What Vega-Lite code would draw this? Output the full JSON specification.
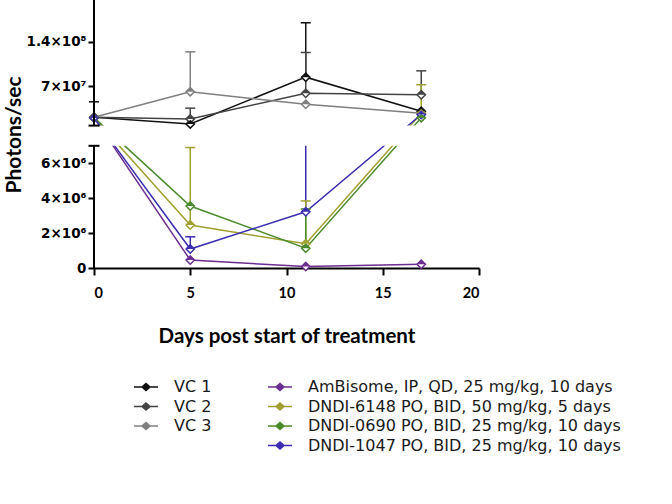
{
  "$schema": "https://vega.github.io/schema/vega-lite/v6.json",
  "width": 385,
  "height": 268,
  "autosize": {"type": "none"},
  "padding": {"left": 94, "top": 0, "right": 193, "bottom": 236},
  "config": {"view": {"stroke": null}, "font": "Lato"},
  "datasets": {
    "series": [
      {"group": "VC 1", "day": 0, "value": 20500000},
      {"group": "VC 1", "day": 5, "value": 10000000},
      {"group": "VC 1", "day": 11, "value": 84000000},
      {"group": "VC 1", "day": 17, "value": 30000000},
      {"group": "VC 2", "day": 0, "value": 20500000},
      {"group": "VC 2", "day": 5, "value": 18000000},
      {"group": "VC 2", "day": 11, "value": 58500000},
      {"group": "VC 2", "day": 17, "value": 56000000},
      {"group": "VC 3", "day": 0, "value": 20500000},
      {"group": "VC 3", "day": 5, "value": 61000000},
      {"group": "VC 3", "day": 11, "value": 41000000},
      {"group": "VC 3", "day": 17, "value": 27000000},
      {"group": "AmBisome, IP, QD, 25 mg/kg, 10 days", "day": 0, "value": 20000000},
      {"group": "AmBisome, IP, QD, 25 mg/kg, 10 days", "day": 5, "value": 470000},
      {"group": "AmBisome, IP, QD, 25 mg/kg, 10 days", "day": 11, "value": 100000},
      {"group": "AmBisome, IP, QD, 25 mg/kg, 10 days", "day": 17, "value": 230000},
      {"group": "DNDI-6148 PO, BID, 50 mg/kg, 5 days", "day": 0, "value": 20000000},
      {"group": "DNDI-6148 PO, BID, 50 mg/kg, 5 days", "day": 5, "value": 2470000},
      {"group": "DNDI-6148 PO, BID, 50 mg/kg, 5 days", "day": 11, "value": 1400000},
      {"group": "DNDI-6148 PO, BID, 50 mg/kg, 5 days", "day": 17, "value": 27000000},
      {"group": "DNDI-0690 PO, BID, 25 mg/kg, 10 days", "day": 0, "value": 20000000},
      {"group": "DNDI-0690 PO, BID, 25 mg/kg, 10 days", "day": 5, "value": 3560000},
      {"group": "DNDI-0690 PO, BID, 25 mg/kg, 10 days", "day": 11, "value": 1150000},
      {"group": "DNDI-0690 PO, BID, 25 mg/kg, 10 days", "day": 17, "value": 20000000},
      {"group": "DNDI-1047 PO, BID, 25 mg/kg, 10 days", "day": 0, "value": 20000000},
      {"group": "DNDI-1047 PO, BID, 25 mg/kg, 10 days", "day": 5, "value": 1100000},
      {"group": "DNDI-1047 PO, BID, 25 mg/kg, 10 days", "day": 11, "value": 3230000},
      {"group": "DNDI-1047 PO, BID, 25 mg/kg, 10 days", "day": 17, "value": 25000000}
    ],
    "errors": [
      {"group": "VC 1", "day": 0, "value": 20500000, "hi": 45000000},
      {"group": "VC 2", "day": 5, "value": 18000000, "hi": 35000000},
      {"group": "VC 3", "day": 5, "value": 61000000, "hi": 124000000},
      {"group": "VC 1", "day": 11, "value": 84000000, "hi": 170000000},
      {"group": "VC 2", "day": 11, "value": 58500000, "hi": 123000000},
      {"group": "VC 2", "day": 17, "value": 56000000, "hi": 94000000},
      {"group": "DNDI-6148 PO, BID, 50 mg/kg, 5 days", "day": 17, "value": 27000000, "hi": 72000000},
      {"group": "DNDI-6148 PO, BID, 50 mg/kg, 5 days", "day": 5, "value": 2470000, "hi": 6900000},
      {"group": "DNDI-1047 PO, BID, 25 mg/kg, 10 days", "day": 5, "value": 1100000, "hi": 1800000},
      {"group": "DNDI-1047 PO, BID, 25 mg/kg, 10 days", "day": 11, "value": 3230000, "hi": 7300000},
      {"group": "DNDI-6148 PO, BID, 50 mg/kg, 5 days", "day": 11, "value": 1400000, "hi": 3850000},
      {"group": "DNDI-0690 PO, BID, 25 mg/kg, 10 days", "day": 11, "value": 1150000, "hi": 3390000}
    ],
    "gap": [{"day": 0, "day2": 20, "value": 7000000, "value2": 7400000}],
    "segments": [
      {"day": 0, "value": 0, "value2": 7000000},
      {"day": 0, "value": 7400000, "value2": 206000000}
    ],
    "breaks": [{"day": 0, "value": 7000000}, {"day": 0, "value": 7400000}]
  },
  "layer": [
    {
      "data": {"name": "series"},
      "mark": {"type": "line", "strokeWidth": 1.5},
      "encoding": {
        "x": {"field": "day", "type": "quantitative", "scale": {"domain": [0, 20], "nice": false, "zero": false},
          "axis": {"values": [0, 5, 10, 15, 20], "grid": false, "domainWidth": 2, "domainColor": "black", "tickWidth": 2, "tickColor": "black", "tickSize": 7,
            "labelFontSize": 14.5, "labelFontWeight": "bold", "labelColor": "black", "labelPadding": 11,
            "title": "Days post start of treatment", "titleFontSize": 20.5, "titleFontWeight": "bold", "titleColor": "black", "titlePadding": 27}},
        "y": {"field": "value", "type": "quantitative",
          "scale": {"domain": [0, 7000000, 7400000, 206000000], "range": [268.3, 145.8, 125.6, 0], "nice": false, "zero": false},
          "axis": {"values": [0, 2000000, 4000000, 6000000, 70000000, 140000000], "grid": false, "domain": false,
            "labelExpr": "datum.value == 0 ? '0' : datum.value == 2000000 ? '2×10⁶' : datum.value == 4000000 ? '4×10⁶' : datum.value == 6000000 ? '6×10⁶' : datum.value == 70000000 ? '7×10⁷' : '1.4×10⁸'",
            "tickWidth": 2, "tickColor": "black", "tickSize": 6, "labelFont": "DejaVu Sans", "labelFontSize": 13.5, "labelFontWeight": "bold", "labelColor": "black", "labelPadding": 2,
            "title": "Photons/sec", "titleFontSize": 21, "titleFontWeight": "bold", "titleColor": "black", "titleX": -74, "titleY": 134.5, "titleBaseline": "alphabetic"}},
        "color": {"field": "group", "type": "nominal",
          "scale": {"domain": ["VC 1", "VC 2", "VC 3", " ", "AmBisome, IP, QD, 25 mg/kg, 10 days", "DNDI-6148 PO, BID, 50 mg/kg, 5 days", "DNDI-0690 PO, BID, 25 mg/kg, 10 days", "DNDI-1047 PO, BID, 25 mg/kg, 10 days"],
            "range": ["#111111", "#444444", "#7f7f7f", "transparent", "#6b2d8f", "#a0a030", "#4b8a2c", "#3a2db0"]},
          "legend": {"title": null, "orient": "none", "legendX": 44, "legendY": 379, "columns": 2, "columnPadding": 53, "rowPadding": 3.5, "labelLimit": 500,
            "symbolType": "M-2,0H-0.67M0.67,0H2M-0.67,0L0,-0.6L0.67,0L0,0.6ZM-0.45,-0.15H0.45M-0.28,-0.32H0.28M-0.1,-0.48H0.1",
            "symbolSize": 144, "symbolStrokeWidth": 1.5, "labelOffset": 20, "labelFontSize": 16, "labelColor": "#1a1a1a", "labelFont": "DejaVu Sans"}}
      }
    },
    {
      "data": {"name": "errors"},
      "mark": {"type": "rule", "strokeWidth": 1.5},
      "encoding": {
        "x": {"field": "day", "type": "quantitative", "scale": {"domain": [0, 20], "nice": false, "zero": false}},
        "y": {"field": "value", "type": "quantitative", "scale": {"domain": [0, 7000000, 7400000, 206000000], "range": [268.3, 145.8, 125.6, 0], "nice": false, "zero": false}},
        "y2": {"field": "hi"},
        "color": {"field": "group", "type": "nominal", "legend": null,
          "scale": {"domain": ["VC 1", "VC 2", "VC 3", " ", "AmBisome, IP, QD, 25 mg/kg, 10 days", "DNDI-6148 PO, BID, 50 mg/kg, 5 days", "DNDI-0690 PO, BID, 25 mg/kg, 10 days", "DNDI-1047 PO, BID, 25 mg/kg, 10 days"],
            "range": ["#111111", "#444444", "#7f7f7f", "transparent", "#6b2d8f", "#a0a030", "#4b8a2c", "#3a2db0"]}}
      }
    },
    {
      "data": {"name": "errors"},
      "mark": {"type": "tick", "orient": "horizontal", "size": 10, "thickness": 1.5, "opacity": 1},
      "encoding": {
        "x": {"field": "day", "type": "quantitative", "scale": {"domain": [0, 20], "nice": false, "zero": false}},
        "y": {"field": "hi", "type": "quantitative", "scale": {"domain": [0, 7000000, 7400000, 206000000], "range": [268.3, 145.8, 125.6, 0], "nice": false, "zero": false}},
        "color": {"field": "group", "type": "nominal", "legend": null,
          "scale": {"domain": ["VC 1", "VC 2", "VC 3", " ", "AmBisome, IP, QD, 25 mg/kg, 10 days", "DNDI-6148 PO, BID, 50 mg/kg, 5 days", "DNDI-0690 PO, BID, 25 mg/kg, 10 days", "DNDI-1047 PO, BID, 25 mg/kg, 10 days"],
            "range": ["#111111", "#444444", "#7f7f7f", "transparent", "#6b2d8f", "#a0a030", "#4b8a2c", "#3a2db0"]}}
      }
    },
    {
      "data": {"name": "gap"},
      "mark": {"type": "rect", "color": "white", "opacity": 1},
      "encoding": {
        "x": {"field": "day", "type": "quantitative", "scale": {"domain": [0, 20], "nice": false, "zero": false}},
        "x2": {"field": "day2"},
        "y": {"field": "value", "type": "quantitative", "scale": {"domain": [0, 7000000, 7400000, 206000000], "range": [268.3, 145.8, 125.6, 0], "nice": false, "zero": false}},
        "y2": {"field": "value2"}
      }
    },
    {
      "data": {"name": "series"},
      "mark": {"type": "point", "shape": "diamond", "filled": true, "fill": "white", "size": 70, "strokeWidth": 1.5, "opacity": 1},
      "encoding": {
        "x": {"field": "day", "type": "quantitative", "scale": {"domain": [0, 20], "nice": false, "zero": false}},
        "y": {"field": "value", "type": "quantitative", "scale": {"domain": [0, 7000000, 7400000, 206000000], "range": [268.3, 145.8, 125.6, 0], "nice": false, "zero": false}},
        "stroke": {"field": "group", "type": "nominal", "legend": null,
          "scale": {"domain": ["VC 1", "VC 2", "VC 3", " ", "AmBisome, IP, QD, 25 mg/kg, 10 days", "DNDI-6148 PO, BID, 50 mg/kg, 5 days", "DNDI-0690 PO, BID, 25 mg/kg, 10 days", "DNDI-1047 PO, BID, 25 mg/kg, 10 days"],
            "range": ["#111111", "#444444", "#7f7f7f", "transparent", "#6b2d8f", "#a0a030", "#4b8a2c", "#3a2db0"]}}
      }
    },
    {
      "data": {"name": "series"},
      "mark": {"type": "point", "shape": "M-1,0L0,-1L1,0Z", "filled": true, "size": 70, "opacity": 1},
      "encoding": {
        "x": {"field": "day", "type": "quantitative", "scale": {"domain": [0, 20], "nice": false, "zero": false}},
        "y": {"field": "value", "type": "quantitative", "scale": {"domain": [0, 7000000, 7400000, 206000000], "range": [268.3, 145.8, 125.6, 0], "nice": false, "zero": false}},
        "color": {"field": "group", "type": "nominal", "legend": null,
          "scale": {"domain": ["VC 1", "VC 2", "VC 3", " ", "AmBisome, IP, QD, 25 mg/kg, 10 days", "DNDI-6148 PO, BID, 50 mg/kg, 5 days", "DNDI-0690 PO, BID, 25 mg/kg, 10 days", "DNDI-1047 PO, BID, 25 mg/kg, 10 days"],
            "range": ["#111111", "#444444", "#7f7f7f", "transparent", "#6b2d8f", "#a0a030", "#4b8a2c", "#3a2db0"]}}
      }
    },
    {
      "data": {"name": "segments"},
      "mark": {"type": "rule", "strokeWidth": 2, "color": "black"},
      "encoding": {
        "x": {"field": "day", "type": "quantitative", "scale": {"domain": [0, 20], "nice": false, "zero": false}},
        "y": {"field": "value", "type": "quantitative", "scale": {"domain": [0, 7000000, 7400000, 206000000], "range": [268.3, 145.8, 125.6, 0], "nice": false, "zero": false}},
        "y2": {"field": "value2"}
      }
    },
    {
      "data": {"name": "breaks"},
      "mark": {"type": "tick", "orient": "horizontal", "size": 11, "thickness": 2, "color": "black", "opacity": 1},
      "encoding": {
        "x": {"field": "day", "type": "quantitative", "scale": {"domain": [0, 20], "nice": false, "zero": false}},
        "y": {"field": "value", "type": "quantitative", "scale": {"domain": [0, 7000000, 7400000, 206000000], "range": [268.3, 145.8, 125.6, 0], "nice": false, "zero": false}}
      }
    }
  ]
}
